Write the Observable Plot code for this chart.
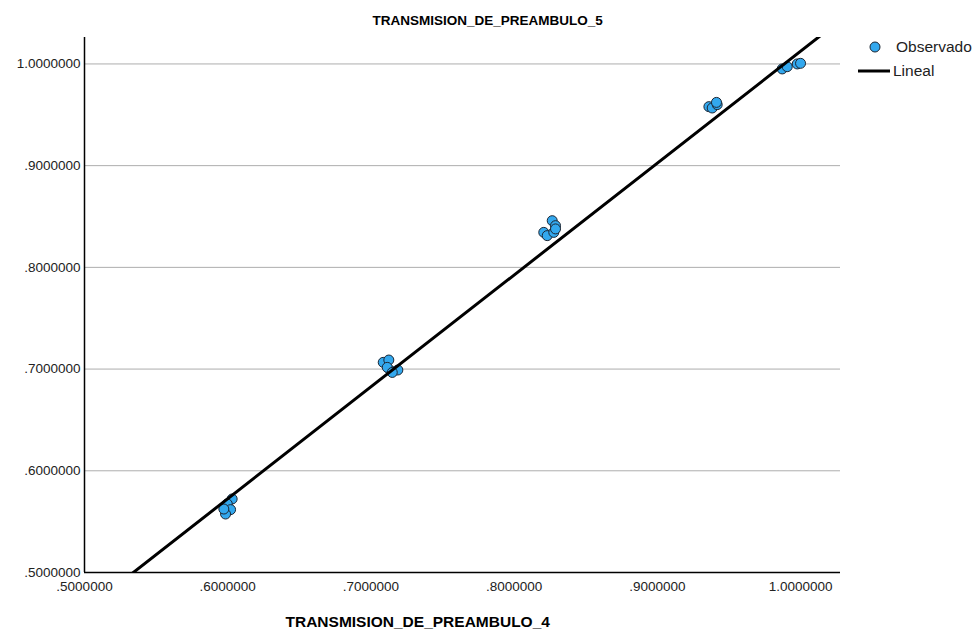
<!DOCTYPE html>
<html>
<head>
<meta charset="utf-8">
<script src="https://cdn.jsdelivr.net/npm/d3@7"></script>
<script src="https://cdn.jsdelivr.net/npm/@observablehq/plot@0.6"></script>
<style>
  html, body { margin: 0; padding: 0; background: #fff; }
  #chart { width: 977px; height: 639px; }
</style>
</head>
<body>
<div id="chart"></div>
<script>
// ---- data ----
const titleText = "TRANSMISION_DE_PREAMBULO_5";
const xLabelText = "TRANSMISION_DE_PREAMBULO_4";

const xObserved = [
  0.6031, 0.5997, 0.6020, 0.5985, 0.5973,
  0.7086, 0.7125, 0.7137, 0.7188, 0.7114, 0.7149,
  0.8207, 0.8231, 0.8266, 0.8289, 0.8277, 0.8289,
  0.9360, 0.9383, 0.9418, 0.9413,
  0.9872, 0.9907, 0.9977, 1.0000
];
const yObserved = [
  0.5723, 0.5674, 0.5618, 0.5575, 0.5624,
  0.7066, 0.7089, 0.6984, 0.6991, 0.7017, 0.6967,
  0.8344, 0.8312, 0.8459, 0.8410, 0.8344, 0.8378,
  0.9580, 0.9567, 0.9600, 0.9622,
  0.9951, 0.9973, 1.0000, 1.0006
];

const fitSlope = 1.10;
const fitIntercept = -0.0875;

const xTicks = [0.5, 0.6, 0.7, 0.8, 0.9, 1.0];
const xTickLabels = [".5000000", ".6000000", ".7000000", ".8000000", ".9000000", "1.0000000"];
const yTicks = [0.5, 0.6, 0.7, 0.8, 0.9, 1.0];
const yTickLabels = [".5000000", ".6000000", ".7000000", ".8000000", ".9000000", "1.0000000"];

const legendLabels = ["Observado", "Lineal"];

const xDomain = [0.5, 1.0279];
const yDomain = [0.5, 1.026];

// ---- build tables ----
const observed = xObserved.map((x, i) => ({x, y: yObserved[i]}));
const fitLine = xDomain.map(x => ({x, y: fitIntercept + fitSlope * x}));

const marginLeft = 84, marginRight = 137, marginTop = 37, marginBottom = 67;

const chart = Plot.plot({
  width: 977,
  height: 639,
  marginLeft, marginRight, marginTop, marginBottom,
  style: {fontFamily: "'Liberation Sans', Arial, sans-serif", fontSize: "13px", color: "#222", background: "#fff"},
  x: {domain: xDomain},
  y: {domain: yDomain},
  marks: [
    Plot.gridY(yTicks, {stroke: "#adadad", strokeOpacity: 1, strokeWidth: 1}),
    Plot.axisY({ticks: yTicks, tickSize: 0, tickPadding: 4, tickFormat: (d) => yTickLabels[yTicks.indexOf(d)], label: null, fontSize: 13.5}),
    Plot.axisX({ticks: xTicks, tickSize: 0, tickPadding: 9, tickFormat: (d) => xTickLabels[xTicks.indexOf(d)], label: null, fontSize: 13.5}),
    Plot.dot(observed, {x: "x", y: "y", r: 5, fill: "#33a8ee", stroke: "#1c2633", strokeWidth: 1, fillOpacity: 1}),
    Plot.line(fitLine, {x: "x", y: "y", stroke: "#000", strokeWidth: 3, clip: true}),
    Plot.ruleX([xDomain[0]], {stroke: "#000", strokeWidth: 1.5}),
    Plot.ruleY([yDomain[0]], {stroke: "#000", strokeWidth: 1.5}),
    Plot.text([titleText], {frameAnchor: "top-left", dx: 288, dy: -22, text: d => d, textAnchor: "start", fontSize: 13.5, fontWeight: "bold", fill: "#000"}),
    Plot.text([xLabelText], {frameAnchor: "bottom-left", dx: 201, dy: 54, text: d => d, textAnchor: "start", fontSize: 15.5, fontWeight: "bold", fill: "#000"})
  ]
});

// legend (outside the frame, right side)
const svg = d3.select(chart);
const lg = svg.append("g")
  .attr("font-family", "'Liberation Sans', Arial, sans-serif")
  .attr("font-size", 15.5)
  .attr("text-anchor", "start");
lg.append("circle").attr("cx", 875).attr("cy", 47).attr("r", 5).attr("fill", "#33a8ee").attr("stroke", "#1c2633");
lg.append("text").attr("x", 896).attr("y", 47).attr("dy", "0.35em").attr("fill", "#222").attr("text-anchor", "start").text(legendLabels[0]);
lg.append("line").attr("x1", 858).attr("x2", 890).attr("y1", 71).attr("y2", 71).attr("stroke", "#000").attr("stroke-width", 3);
lg.append("text").attr("x", 893).attr("y", 71).attr("dy", "0.35em").attr("fill", "#222").attr("text-anchor", "start").text(legendLabels[1]);

document.getElementById("chart").appendChild(chart);
</script>
</body>
</html>
